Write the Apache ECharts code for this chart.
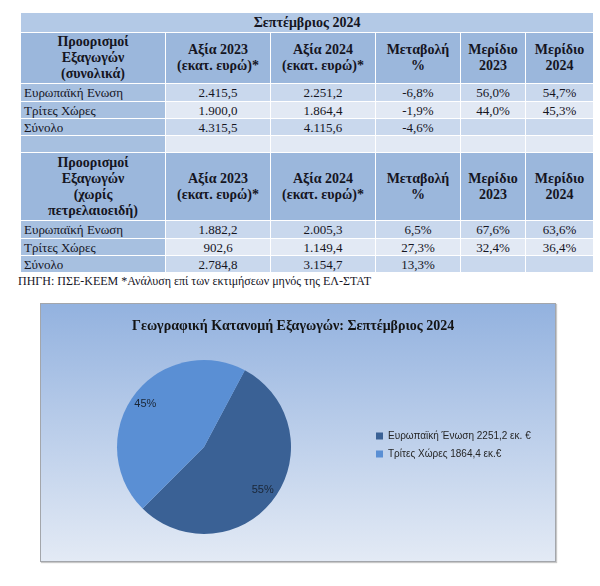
<!DOCTYPE html>
<html lang="el">
<head>
    <meta charset="utf-8">
    <script src="https://cdn.jsdelivr.net/npm/echarts@6/dist/echarts.min.js"></script>
    <title>exports_sept_2024</title>
</head>
<body>
<style>
    html, body {
        width: 600px;
        height: 586px;
        margin: 0;
        background: #fff;
    }
    #tbl {
        position: absolute;
        left: 20px;
        top: 12px;
        width: 573px;
        border-collapse: collapse;
        table-layout: fixed;
        font-family: "Liberation Serif", "Times New Roman", serif;
        font-size: 13px;
        color: #15151f;
    }
    #tbl td {
        border: 1px solid #fff;
        padding: 0 3px;
        text-align: center;
        line-height: 15px;
        overflow: hidden;
        white-space: nowrap;
    }
    #tbl td.name { text-align: left; background: #a7c0e0; }
    #tbl tr.title td { background: #b3c9e6; font-weight: bold; font-size: 14px; }
    #tbl tr.head td { background: #9bb7dc; font-weight: bold; font-size: 14px; line-height: 16px; }
    #tbl tr.odd td { background: #c9d8ed; }
    #tbl tr.even td { background: #e2e9f4; }
    #tbl tr.odd td.name, #tbl tr.even td.name { background: #a7c0e0; }
    #note {
        position: absolute;
        left: 18px;
        top: 274px;
        font-family: "Liberation Serif", serif;
        font-size: 12px;
        color: #15151f;
    }
    #main {
        position: absolute;
        left: 40px;
        top: 303px;
        width: 514px;
        height: 257px;
        border: 1px solid #a3a6ab;
        box-shadow: 1px 1px 1px #c8c8c8;
    }
</style>
<table id="tbl"></table>
<div id="note"></div>
<div id="main"></div>
<script>
    // table data
    var tableTitle = 'Σεπτέμβριος 2024';
    var headerAll = ['Προορισμοί\nΕξαγωγών\n(συνολικά)', 'Αξία 2023\n(εκατ. ευρώ)*', 'Αξία 2024\n(εκατ. ευρώ)*', 'Μεταβολή\n%', 'Μερίδιο\n2023', 'Μερίδιο\n2024'];
    var headerNoOil = ['Προορισμοί\nΕξαγωγών\n(χωρίς\nπετρελαιοειδή)', 'Αξία 2023\n(εκατ. ευρώ)*', 'Αξία 2024\n(εκατ. ευρώ)*', 'Μεταβολή\n%', 'Μερίδιο\n2023', 'Μερίδιο\n2024'];
    var rowNames = ['Ευρωπαϊκή Ενωση', 'Τρίτες Χώρες', 'Σύνολο'];
    var valuesAll = [
        ['2.415,5', '2.251,2', '-6,8%', '56,0%', '54,7%'],
        ['1.900,0', '1.864,4', '-1,9%', '44,0%', '45,3%'],
        ['4.315,5', '4.115,6', '-4,6%', '', '']
    ];
    var valuesNoOil = [
        ['1.882,2', '2.005,3', '6,5%', '67,6%', '63,6%'],
        ['902,6', '1.149,4', '27,3%', '32,4%', '36,4%'],
        ['2.784,8', '3.154,7', '13,3%', '', '']
    ];
    var noteText = 'ΠΗΓΗ: ΠΣΕ-ΚΕΕΜ  *Ανάλυση επί των εκτιμήσεων μηνός της ΕΛ-ΣΤΑΤ';

    // pie data
    var chartTitle = 'Γεωγραφική Κατανομή Εξαγωγών: Σεπτέμβριος 2024';
    var pieNames = ['Ευρωπαϊκή Ένωση', 'Τρίτες Χώρες'];
    var pieValues = [2251.2, 1864.4];
    var pieUnits = [' εκ. €', ' εκ.€'];

    var colWidths = [145, 105, 105, 85, 65, 68];

    function headRow(cells, h) {
        return '<tr class="head" style="height:' + h + 'px">' + cells.map(function (c) {
            return '<td>' + c.split('\n').join('<br>') + '</td>';
        }).join('') + '</tr>';
    }
    function dataRows(vals, heights) {
        var html = '';
        vals.forEach(function (r, i) {
            html += '<tr class="' + (i % 2 ? 'even' : 'odd') + '" style="height:' + heights[i] + 'px">'
                + '<td class="name">' + rowNames[i] + '</td>'
                + r.map(function (v) { return '<td>' + v + '</td>'; }).join('') + '</tr>';
        });
        return html;
    }

    var html = '<colgroup>' + colWidths.map(function (w) { return '<col style="width:' + w + 'px">'; }).join('') + '</colgroup>';
    html += '<tr class="title" style="height:20px"><td colspan="6">' + tableTitle + '</td></tr>';
    html += headRow(headerAll, 51);
    html += dataRows(valuesAll, [18, 17, 17]);
    html += '<tr class="even" style="height:17px"><td class="name"></td><td></td><td></td><td></td><td></td><td></td></tr>';
    html += headRow(headerNoOil, 68);
    html += dataRows(valuesNoOil, [18, 17, 17]);
    document.getElementById('tbl').innerHTML = html;
    document.getElementById('note').textContent = noteText;

    var chart = echarts.init(document.getElementById('main'));
    var pieData = pieNames.map(function (n, i) { return { name: n, value: pieValues[i] }; });
    var option = {
        backgroundColor: new echarts.graphic.LinearGradient(0, 0, 0, 1, [
            { offset: 0, color: '#93b2df' },
            { offset: 1, color: '#e3eaf5' }
        ]),
        color: ['#3a6195', '#5a8fd4'],
        title: {
            text: chartTitle,
            left: 86,
            top: 10,
            textStyle: {
                fontFamily: 'Liberation Serif',
                fontWeight: 'bold',
                fontSize: 14,
                color: '#141414'
            }
        },
        legend: {
            orient: 'vertical',
            left: 330,
            top: 122,
            itemWidth: 7,
            itemHeight: 7,
            itemGap: 8,
            icon: 'rect',
            textStyle: { fontFamily: 'Liberation Sans', fontSize: 10, color: '#262626' },
            formatter: function (name) {
                var i = pieNames.indexOf(name);
                return name + ' ' + pieValues[i].toFixed(1).replace('.', ',') + pieUnits[i];
            }
        },
        series: [{
            type: 'pie',
            center: [163, 143],
            radius: 87,
            startAngle: 62,
            silent: true,
            label: { show: false },
            labelLine: { show: false },
            data: pieData
        }, {
            // transparent ring only used to put the percent labels further out
            type: 'pie',
            center: [163, 143],
            radius: 140,
            startAngle: 62,
            silent: true,
            percentPrecision: 0,
            itemStyle: { color: 'rgba(0,0,0,0)' },
            label: {
                show: true,
                position: 'inside',
                formatter: '{d}%',
                fontFamily: 'Liberation Sans',
                fontSize: 11,
                color: '#1a2636'
            },
            labelLine: { show: false },
            data: pieData
        }]
    };
    chart.setOption(option);
</script>
</body>
</html>
